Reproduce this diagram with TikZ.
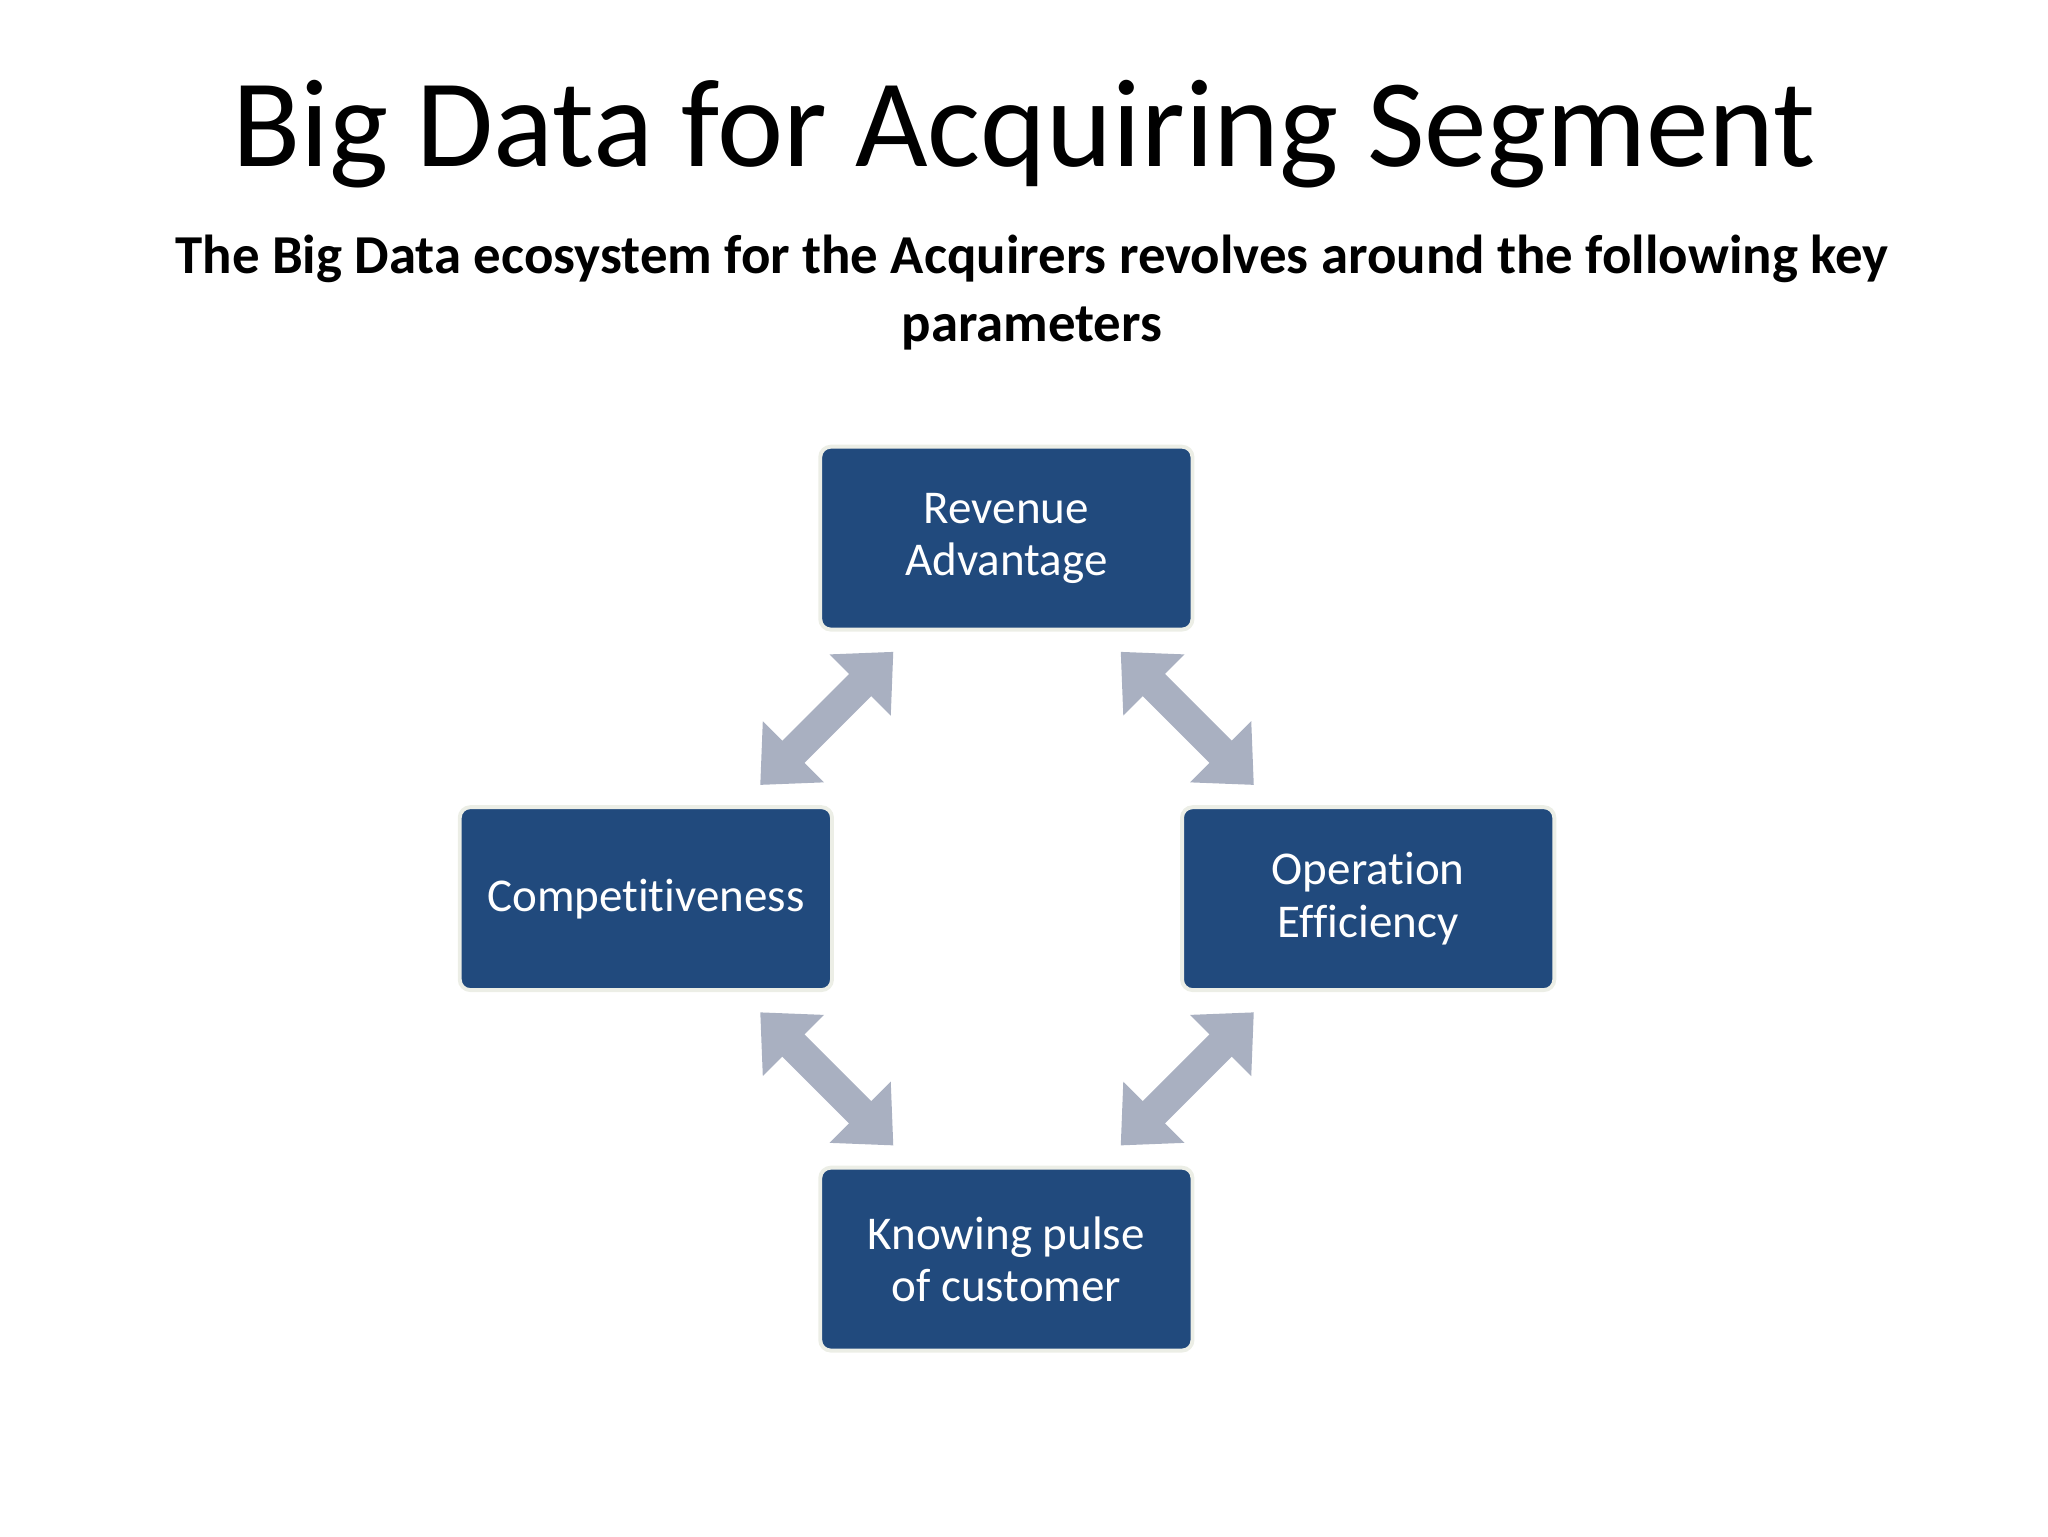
\documentclass[tikz,border=0pt]{standalone}
\usepackage{fontspec}
\setmainfont[Ligatures={NoCommon}]{Carlito}
\usetikzlibrary{arrows.meta}
\definecolor{boxblue}{HTML}{214A7D}
\definecolor{arrgray}{HTML}{A9B0C1}
\definecolor{rim}{HTML}{ECEEE6}
\tikzset{
  pbox/.style={draw=rim, line width=3pt, fill=boxblue, rounded corners=8pt, minimum width=285pt, minimum height=140pt, text=white, font=\fontsize{36}{40}\selectfont, align=center, inner sep=0pt},
  darr/.style={draw=arrgray, line width=24pt, {Triangle[width=64pt,length=36pt]}-{Triangle[width=64pt,length=36pt]}}
}
\begin{document}
\begin{tikzpicture}[x=1pt,y=-1pt]
\useasboundingbox (0,0) rectangle (1568,1176);
\node (title) at (784,103) {\fontsize{96}{100}\selectfont Big Data for Acquiring Segment};
\node (sub) at (790,224) [align=center, font=\bfseries\fontsize{42}{52}\selectfont] {The Big Data ecosystem for the Acquirers revolves around the following key\\parameters};
\node[pbox] (rev) at (770.5,412) {Revenue\\Advantage};
\node[pbox] (comp) at (494.5,688) {Competitiveness};
\node[pbox] (op) at (1047.5,688) {Operation\\Efficiency};
\node[pbox] (know) at (770.5,964) {Knowing pulse\\of customer};
\coordinate (a1) at (684,499); \coordinate (a2) at (582,601);
\coordinate (b1) at (858,499); \coordinate (b2) at (960,601);
\coordinate (c1) at (582,775); \coordinate (c2) at (684,877);
\coordinate (d1) at (960,775); \coordinate (d2) at (858,877);
\draw[darr] (a1) -- (a2);
\draw[darr] (b1) -- (b2);
\draw[darr] (c1) -- (c2);
\draw[darr] (d1) -- (d2);
\end{tikzpicture}
\end{document}
